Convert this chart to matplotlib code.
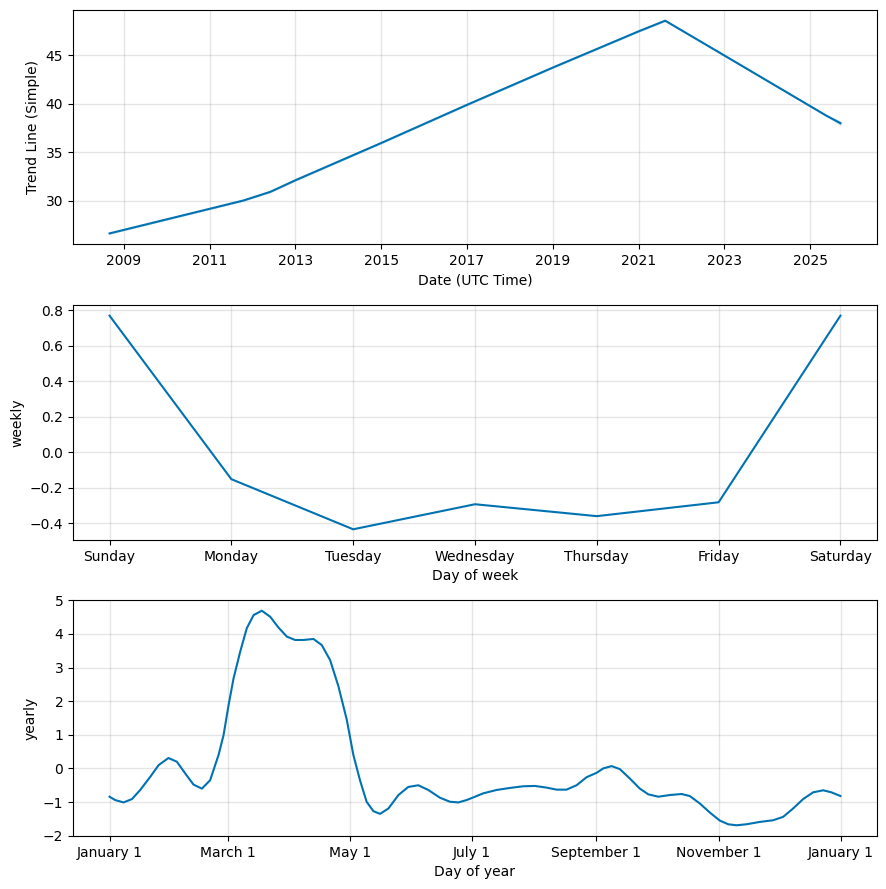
import matplotlib
matplotlib.use("Agg")
import matplotlib.pyplot as plt
import matplotlib.dates as mdates
from matplotlib.ticker import FuncFormatter
import numpy as np
import pandas as pd

# --- trend component ---
trend_dates = ['2008-09-01', '2011-10-15', '2012-06-01', '2013-01-01', '2015-01-01',
               '2017-01-01', '2019-01-01', '2021-01-01', '2021-08-15',
               '2023-01-01', '2025-05-15', '2025-09-15']
trend_vals = [26.6, 30.0, 30.9, 32.1, 35.95, 39.9, 43.75, 47.5, 48.6,
              45.0, 38.8, 38.0]
trend_band = [0, 0, 0, 0, 0, 0, 0, 0, 0, 0, 0, 0.15]
trend_ticks = ['2009', '2011', '2013', '2015', '2017', '2019', '2021', '2023', '2025']

# --- weekly component ---
week_days = ['Sunday', 'Monday', 'Tuesday', 'Wednesday', 'Thursday', 'Friday', 'Saturday']
weekly_vals = [0.768, -0.152, -0.434, -0.293, -0.36, -0.282, 0.768]

# --- yearly component (day offset from Jan 1, value) ---
year_days = [0, 2.8, 7, 11.2, 15.3, 20.3, 24.5, 29.4, 33.6, 37.8, 41.9, 46.1, 50.2,
             54.4, 56.9, 59.4, 61.9, 65.2, 68.5, 71.9, 76.0, 80.2, 84.3, 88.5, 92.6,
             96.8, 101.8, 105.9, 110.1, 114.2, 118.4, 121.7, 125.0, 128.3, 131.7,
             135.0, 139.2, 144.2, 149.1, 154.1, 159.1, 164.9, 169.9, 174.1, 178.2,
             181.6, 186.5, 193.2, 199.8, 206.5, 212.3, 218.1, 223.1, 228.1, 233.1,
             238.1, 243.1, 246.4, 250.6, 254.7, 259.7, 264.7, 268.9, 273.9, 279.7,
             285.5, 289.6, 294.6, 299.6, 304.6, 308.8, 312.9, 317.9, 324.6, 331.2,
             336.2, 341.2, 346.2, 351.2, 356.2, 360.3, 364.8]
yearly_vals = [-0.84, -0.94, -1.01, -0.91, -0.64, -0.25, 0.10, 0.31, 0.20, -0.15,
               -0.48, -0.60, -0.35, 0.40, 0.99, 1.88, 2.68, 3.47, 4.17, 4.56, 4.69,
               4.51, 4.19, 3.92, 3.82, 3.82, 3.85, 3.67, 3.22, 2.45, 1.45, 0.40,
               -0.35, -0.99, -1.27, -1.35, -1.19, -0.79, -0.55, -0.50, -0.64, -0.87,
               -0.99, -1.01, -0.94, -0.86, -0.74, -0.64, -0.58, -0.53, -0.52, -0.57,
               -0.63, -0.63, -0.50, -0.26, -0.13, 0.0, 0.07, -0.02, -0.30, -0.60,
               -0.77, -0.84, -0.79, -0.76, -0.82, -1.04, -1.31, -1.55, -1.66, -1.69,
               -1.66, -1.59, -1.54, -1.44, -1.19, -0.91, -0.71, -0.65, -0.71, -0.82]

blue = '#0072B2'
grid_kw = dict(c='gray', ls='-', lw=1, alpha=0.2)

fig = plt.figure(figsize=(8.86, 8.89), dpi=100)
ax1 = fig.add_axes([0.0824, 0.7255, 0.9074, 0.2632])
ax2 = fig.add_axes([0.0824, 0.3926, 0.9074, 0.2643])
ax3 = fig.add_axes([0.0824, 0.0596, 0.9074, 0.2655])

# trend
td = pd.to_datetime(trend_dates)
tv = np.array(trend_vals)
tb = np.array(trend_band)
ax1.plot(td, tv, ls='-', c=blue)
ax1.fill_between(td, tv - tb, tv + tb, color=blue, alpha=0.2)
ax1.set_xticks(pd.to_datetime(trend_ticks))
ax1.xaxis.set_major_formatter(mdates.DateFormatter('%Y'))
ax1.grid(True, which='major', **grid_kw)
ax1.set_xlabel('Date (UTC Time)')
ax1.set_ylabel('Trend Line (Simple)')

# weekly
ax2.plot(range(len(week_days)), weekly_vals, ls='-', c=blue)
ax2.set_xticks(range(len(week_days)))
ax2.set_xticklabels(week_days)
ax2.grid(True, which='major', **grid_kw)
ax2.set_xlabel('Day of week')
ax2.set_ylabel('weekly')

# yearly
yd = pd.Timestamp('2017-01-01') + pd.to_timedelta(year_days, unit='D')
ax3.plot(yd, yearly_vals, ls='-', c=blue)
ax3.xaxis.set_major_locator(mdates.MonthLocator(bymonth=range(1, 13, 2), bymonthday=1))
ax3.xaxis.set_major_formatter(FuncFormatter(
    lambda x, pos=None: '{dt:%B} {dt.day}'.format(dt=mdates.num2date(x))))
ax3.grid(True, which='major', **grid_kw)
ax3.set_xlabel('Day of year')
ax3.set_ylabel('yearly')

fig.savefig('out.png', dpi=100)
